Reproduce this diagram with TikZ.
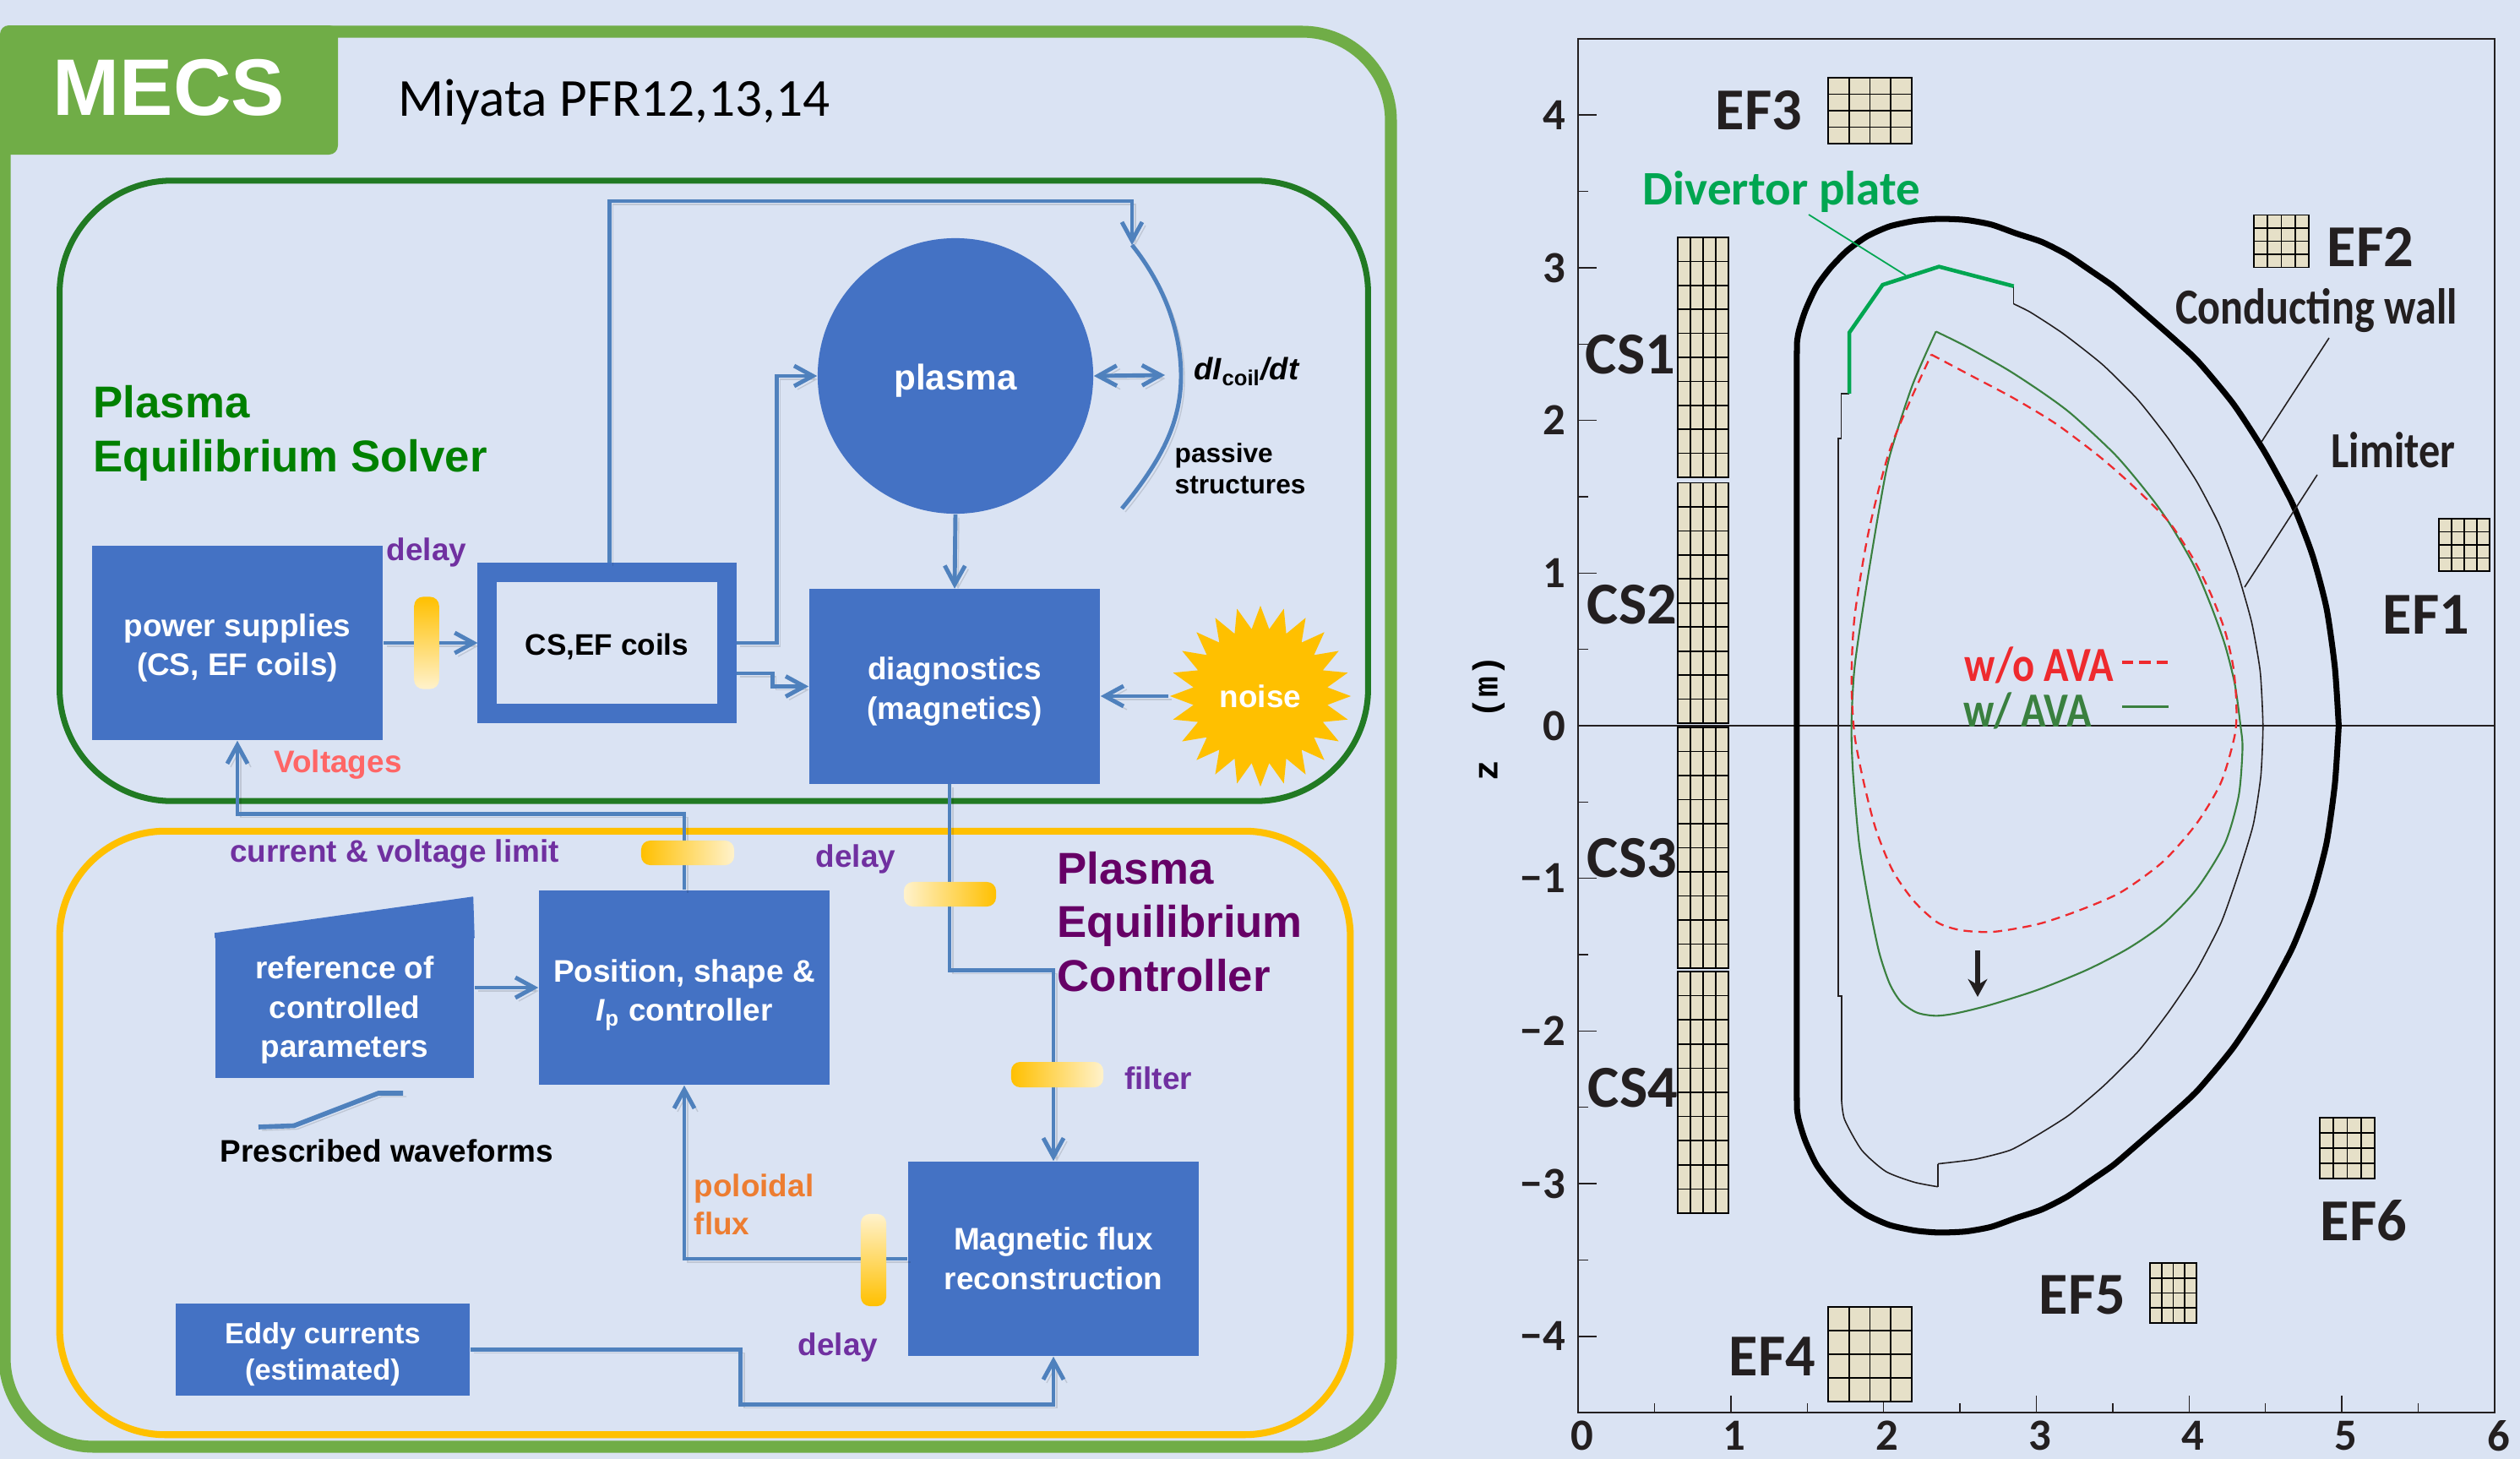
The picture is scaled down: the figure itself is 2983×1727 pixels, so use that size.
\documentclass[tikz,border=0pt]{standalone}
\usepackage{xcolor}
\usepackage{fontspec}
\setmainfont{Liberation Sans}
\newfontfamily\plotfont{Carlito}
\newfontfamily\plotnarrow[FakeStretch=0.84]{Carlito}
\newfontfamily\axisfont{Liberation Mono}
\definecolor{PageBg}{HTML}{DAE3F3}
\definecolor{OuterGreen}{HTML}{70AD47}
\definecolor{SolverGreen}{HTML}{217A23}
\definecolor{CtrlYellow}{HTML}{FFC000}
\definecolor{BoxBlue}{HTML}{4472C4}
\definecolor{FlowBlue}{HTML}{4F81BD}
\definecolor{BarPale}{HTML}{FFF2CC}
\definecolor{LabelPurple}{HTML}{7030A0}
\definecolor{CtrlPurple}{HTML}{660066}
\definecolor{FluxOrange}{HTML}{ED7D31}
\definecolor{VoltRed}{HTML}{FF6666}
\definecolor{TextGreen}{HTML}{008000}
\definecolor{PlateGreen}{HTML}{00A651}
\definecolor{AvaGreen}{HTML}{3A803F}
\definecolor{AvaRed}{HTML}{EE2A2E}
\definecolor{CoilFill}{HTML}{E6E0C8}
\definecolor{PlotInk}{HTML}{231F20}
\usepackage{tikz}
\usetikzlibrary{arrows.meta,shapes.geometric}
\newcommand{\topgap}[1]{\rule{0pt}{#1}}
\tikzset{
  frame/.style={
    draw,
    inner sep=0pt
  },
  bluebox/.style={
    fill=BoxBlue,
    text=white,
    align=center,
    inner sep=0pt,
    minimum width=3.44cm,
    minimum height=2.3cm,
    font=\fontsize{10.5}{13.3}\selectfont\bfseries
  },
  flowline/.style={
    draw=FlowBlue,
    line width=1.4pt,
    -{Straight Barb[length=2.2mm,width=2.4mm]},
    preaction={draw=black,opacity=.12,transform canvas={shift={(4,4)}}}
  },
  flowboth/.style={
    flowline,
    {Straight Barb[length=2.2mm,width=2.4mm]}-{Straight Barb[length=2.2mm,width=2.4mm]}
  },
  plainflow/.style={
    draw=FlowBlue,
    line width=1.4pt,
    preaction={draw=black,opacity=.12,transform canvas={shift={(4,4)}}}
  },
  delaybar/.style={
    rounded corners=3pt,
    inner sep=0pt
  },
  barlabel/.style={
    text=LabelPurple,
    inner sep=0pt,
    font=\fontsize{10.5}{13}\selectfont\bfseries
  },
  blacklabel/.style={
    text=black,
    inner sep=0pt,
    align=left,
    font=\fontsize{10.5}{13}\selectfont\bfseries
  },
  headline/.style={
    inner sep=0pt,
    align=left,
    font=\fontsize{15}{18}\selectfont\bfseries
  },
  coillabel/.style={
    text=PlotInk,
    inner sep=0pt,
    font=\plotfont\fontsize{20}{22}\selectfont\bfseries
  },
  walllabel/.style={
    text=PlotInk,
    inner sep=0pt,
    font=\plotnarrow\fontsize{17}{19}\selectfont\bfseries
  },
  ticklabel/.style={
    text=PlotInk,
    inner sep=0pt,
    font=\plotfont\fontsize{15}{18}\selectfont\bfseries
  },
  axisline/.style={
    draw=PlotInk,
    line width=0.4pt
  },
  leaderline/.style={
    draw=PlotInk,
    line width=0.45pt
  },
  limiterline/.style={
    draw=PlotInk,
    line width=0.45pt
  },
  coilbox/.style={
    fill=CoilFill,
    draw=black,
    line width=0.5pt
  },
  coilline/.style={
    draw=black,
    line width=0.5pt
  }
}
\newcommand{\coilgrid}[4]{
  \filldraw[coilbox] (#1,#2) rectangle ++(#3,#4);
  \foreach \i in {1,...,4}{\draw[coilline] ({#1+#3*\i/4},#2) -- ++(0,#4);}
  \foreach \j in {1,...,4}{\draw[coilline] (#1,{#2+#4*\j/4}) -- ++(#3,0);}
}
\newcommand{\csgrid}[2]{
  \filldraw[coilbox] (1986,#1) rectangle ++(60,#2);
  \foreach \i in {1,...,4}{\draw[coilline] ({1986+60*\i/4},#1) -- ++(0,#2);}
  \foreach \j in {1,...,10}{\draw[coilline] (1986,{#1+#2*\j/10}) -- ++(60,0);}
}
\begin{document}
\begin{tikzpicture}[x=0.01cm,y=-0.01cm]
  \useasboundingbox (0,0) rectangle (2983,1727);
  \fill[PageBg] (0,0) rectangle (2983,1727);

  \node[frame,draw=OuterGreen,line width=4pt,rounded corners=1.05cm,minimum width=16.4cm,minimum height=16.74cm] (mecsframe) at (826,875) {};
  \fill[OuterGreen,rounded corners=3pt] (0,30) rectangle (400,183);
  \node[text=white,inner sep=0pt,font=\fontsize{27}{30}\selectfont\bfseries] (mecs) at (200,104) {MECS};
  \node[inner sep=0pt,font=\plotfont\fontsize{18}{20}\selectfont] (miyata) at (727,121) {Miyata PFR12,13,14};
  \node[frame,draw=SolverGreen,line width=2pt,rounded corners=1.33cm,minimum width=15.48cm,minimum height=7.34cm] (solverframe) at (845,581) {};
  \node[frame,draw=CtrlYellow,line width=2.3pt,rounded corners=1.25cm,minimum width=15.27cm,minimum height=7.14cm] (ctrlframe) at (834.5,1341) {};

  \node[headline,text=TextGreen,anchor=west] (solver) at (110,513) {Plasma\\Equilibrium Solver};
  \node[headline,text=CtrlPurple,anchor=west] (controller) at (1251,1091) {Plasma\\Equilibrium\\Controller};

  \node[bluebox] (power) at (281,761) {\topgap{1.05em}power supplies\\(CS, EF coils)};
  \node[draw=BoxBlue,line width=.23cm,fill=PageBg,text=black,inner sep=0pt,minimum width=2.83cm,minimum height=1.66cm,font=\fontsize{10}{12}\selectfont\bfseries] (coils) at (718.5,761) {\topgap{1em}CS,EF coils};
  \node[circle,fill=BoxBlue,text=white,inner sep=0pt,minimum size=3.26cm,font=\fontsize{12}{14}\selectfont\bfseries] (plasma) at (1131,445) {\topgap{1em}plasma};
  \node[bluebox] (diagnostics) at (1130,812.5) {\topgap{1.05em}diagnostics\\(magnetics)};
  \node[star,star points=24,star point ratio=1.34,fill=CtrlYellow,text=white,inner sep=0pt,minimum size=2.14cm,font=\fontsize{10.5}{13}\selectfont\bfseries] (noise) at (1492,824) {noise};
  \node[bluebox,minimum width=3.06cm,minimum height=1.71cm] (reference) at (408,1190.5) {\topgap{1em}reference of\\controlled\\parameters};
  \fill[BoxBlue] ([yshift=-.06cm]reference.north west) -- (reference.north west) -- ++(306,-43) -- ([yshift=-.06cm]reference.north east) -- cycle;
  \node[bluebox] (position) at (810,1169) {\topgap{1.2em}Position, shape \&\\\textit{I}\textsubscript{p} controller};
  \node[bluebox] (flux) at (1247,1490) {Magnetic flux\\reconstruction};
  \node[bluebox,minimum width=3.48cm,minimum height=1.09cm,font=\fontsize{9.8}{12}\selectfont\bfseries] (eddy) at (382,1597.5) {\topgap{1.05em}Eddy currents\\(estimated)};

  \coordinate (feedover) at (1340,238);
  \coordinate (passivetop) at (1340,290);
  \coordinate (passivemid) at (1379,444);
  \draw[flowline] ([xshift=.03cm]coils.north) |- (feedover) -- (passivetop);
  \draw[plainflow] (passivetop) .. controls (1380,340) and (1398,395) .. (1398,445) .. controls (1398,500) and (1375,545) .. (1328,602);
  \draw[flowline] (coils.east) -- ++(48,0) |- (plasma.west);
  \draw[flowline] ([yshift=-.36cm]coils.east) -- ++(43,0) |- (diagnostics.west);
  \draw[flowline] (power.east) -- (coils.west);
  \draw[flowline] (plasma.south) -- (diagnostics.north);
  \draw[flowboth] (plasma.east) -- (passivemid);
  \draw[flowline] (noise.west) -- (diagnostics.east |- noise.west);
  \draw[flowline] (position.north) -- ++(0,-90) -| (power.south);
  \draw[flowline] ([xshift=-.06cm]diagnostics.south) -- ++(0,220) -| (flux.north);
  \draw[flowline] (flux.west) -| (position.south);
  \draw[flowline] (eddy.east) -- ++(320,0) -- ++(0,65) -| (flux.south);
  \draw[flowline] (reference.east |- position.west) -- (position.west);
  \draw[plainflow,line width=1.6pt] (306,1334) -- (348,1332.5) -- (448,1294) -- (477,1294);

  \node[delaybar,top color=CtrlYellow,bottom color=BarPale,minimum width=.295cm,minimum height=1.09cm] (powerdelay) at (505,761) {};
  \node[delaybar,left color=CtrlYellow,right color=BarPale,minimum width=1.1cm,minimum height=.29cm] (limitdelay) at (814,1009.5) {};
  \node[delaybar,left color=BarPale,right color=CtrlYellow,minimum width=1.09cm,minimum height=.29cm] (diagdelay) at (1124.5,1058.5) {};
  \node[delaybar,left color=CtrlYellow,right color=BarPale,minimum width=1.09cm,minimum height=.3cm] (filterbar) at (1251.5,1272) {};
  \node[delaybar,top color=BarPale,bottom color=CtrlYellow,minimum width=.3cm,minimum height=1.09cm] (fluxdelay) at (1034,1491.5) {};

  \node[barlabel] (delaya) at (505,654) {delay};
  \node[barlabel,text=VoltRed] (voltages) at (400,905) {Voltages};
  \node[barlabel] (limit) at (467,1011) {current \& voltage limit};
  \node[barlabel] (delayb) at (1013,1017) {delay};
  \node[barlabel] (filter) at (1371,1276) {filter};
  \node[barlabel] (delayc) at (992,1595) {delay};
  \node[barlabel,text=FluxOrange,anchor=west,align=left,font=\fontsize{10.5}{12.7}\selectfont\bfseries] (poloidal) at (821,1426) {poloidal\\flux};
  \node[blacklabel,font=\fontsize{10.4}{14}\selectfont\bfseries] (didt) at (1476,440) {\textit{dI}\textsubscript{coil}\textit{/dt}};
  \node[blacklabel,anchor=west,font=\fontsize{9}{10.5}\selectfont\bfseries] (passive) at (1390,555) {passive\\structures};
  \node[blacklabel] (prescribed) at (458,1362) {Prescribed waveforms};

  \begin{scope}[shift={(1868,859)},x=1.807cm,y=1.806cm]
    \draw[axisline] (0,-4.5) rectangle (6,4.5);
    \draw[axisline] (0,0) -- (6,0);
    \foreach \z/\zname in {-4/−4,-3/−3,-2/−2,-1/−1,0/0,1/1,2/2,3/3,4/4}{
      \draw[axisline] (0,\z) -- ++(.12,0);
      \node[ticklabel,anchor=east] (ztick\z) at (-.08,\z) {\zname};
    }
    \foreach \z in {-3.5,-2.5,-1.5,-0.5,0.5,1.5,2.5,3.5}{\draw[axisline] (0,\z) -- ++(.065,0);}
    \foreach \r in {0,...,6}{\node[ticklabel] (rtick\r) at (\r+.025,-4.65) {\r};}
    \foreach \r in {1,...,5}{\draw[axisline] (\r,-4.5) -- ++(0,.11);}
    \foreach \r in {0.5,1.5,2.5,3.5,4.5,5.5}{\draw[axisline] (\r,-4.5) -- ++(0,.06);}

    \foreach \sgn in {1,-1}{
      \draw[black,line width=2pt,yscale=\sgn] plot[smooth,tension=.4] coordinates {(1.432,0) (1.432,1.2) (1.432,2.394) (1.44,2.56) (1.487,2.717) (1.56,2.874) (1.653,3.0) (1.764,3.114) (1.893,3.206) (2.04,3.271) (2.206,3.307) (2.363,3.32) (2.538,3.313) (2.704,3.283) (2.87,3.224) (3.036,3.169) (3.2,3.086) (3.35,2.985) (3.498,2.883) (3.608,2.79) (3.894,2.54) (4.06,2.385) (4.29,2.108) (4.494,1.794) (4.678,1.452) (4.807,1.12) (4.9,.77) (4.955,.38) (4.98,0)};
    }
    \draw[limiterline] plot[smooth,tension=.35] coordinates {(2.852,2.763) (2.962,2.708) (3.175,2.569) (3.433,2.366) (3.664,2.136) (3.867,1.877) (4.05,1.6) (4.199,1.314) (4.318,1.0) (4.41,.677) (4.466,.354) (4.484,0) (4.47,-.33) (4.42,-.65) (4.32,-.98) (4.21,-1.29) (4.05,-1.6) (3.87,-1.87) (3.67,-2.13) (3.44,-2.36) (3.215,-2.55) (3.01,-2.68) (2.83,-2.78) (2.6,-2.84) (2.355,-2.87)};
    \draw[limiterline] (2.852,2.879) -- (2.852,2.763);
    \draw[limiterline] (1.776,2.176) -- (1.723,2.176) -- (1.723,1.881) -- (1.704,1.881) -- (1.704,-1.77) -- (1.725,-1.77) -- (1.725,-2.45);
    \draw[limiterline] plot[smooth,tension=.4] coordinates {(1.725,-2.45) (1.745,-2.58) (1.857,-2.78) (2.015,-2.92) (2.2,-2.99) (2.355,-3.02)};
    \draw[limiterline] (2.355,-3.02) -- (2.355,-2.87);
    \draw[PlateGreen,line width=1.3pt] (1.776,2.176) -- (1.776,2.575) -- (1.994,2.888) -- (2.363,3.007) -- (2.852,2.879);

    \draw[AvaGreen,line width=0.6pt] plot[smooth,tension=.45] coordinates {(2.343,2.582) (2.538,2.486) (2.815,2.33) (3.055,2.172) (3.239,2.034) (3.525,1.766) (3.756,1.489) (3.885,1.305) (4.033,1.047) (4.143,.788) (4.235,.53) (4.30,.271) (4.337,0) (4.35,-.15) (4.325,-.46) (4.235,-.77) (4.05,-1.07) (3.83,-1.3) (3.6,-1.46) (3.33,-1.6) (3.01,-1.73) (2.695,-1.83) (2.47,-1.885) (2.34,-1.9) (2.22,-1.88) (2.115,-1.81) (2.04,-1.69) (1.97,-1.48) (1.9,-1.14) (1.84,-.77) (1.8,-.31) (1.79,0) (1.81,.38) (1.88,.865) (1.97,1.41) (2.04,1.766) (2.188,2.228) (2.343,2.582)};
    \draw[AvaRed,line width=0.65pt,dash pattern=on 3pt off 2pt] plot[smooth,tension=.45] coordinates {(2.313,2.431) (2.575,2.292) (2.852,2.145) (3.128,1.978) (3.405,1.77) (3.59,1.61) (3.756,1.452) (3.885,1.314) (4.033,1.084) (4.143,.862) (4.235,.622) (4.29,.382) (4.31,.142) (4.3,-.06) (4.21,-.37) (4.05,-.64) (3.83,-.89) (3.555,-1.09) (3.28,-1.21) (3.01,-1.3) (2.72,-1.35) (2.51,-1.34) (2.355,-1.29) (2.2,-1.15) (2.06,-.95) (1.95,-.68) (1.87,-.37) (1.81,-.06) (1.79,.29) (1.81,.71) (1.9,1.26) (2.031,1.776) (2.169,2.117) (2.313,2.431)};
  \end{scope}

  \csgrid{281}{284}
  \csgrid{571.5}{284.5}
  \csgrid{861}{285}
  \csgrid{1150}{286}
  \coilgrid{2164}{92}{99}{78}
  \coilgrid{2668}{254.5}{65}{62}
  \coilgrid{2887}{614}{60}{62}
  \coilgrid{2746}{1323}{65}{72}
  \coilgrid{2545}{1495}{55}{71}
  \coilgrid{2164}{1547}{99}{112}

  \node[coillabel] (ef3) at (2082,131) {EF3};
  \node[coillabel] (ef2) at (2806,292) {EF2};
  \node[coillabel] (ef1) at (2872,728) {EF1};
  \node[coillabel] (ef6) at (2798,1445) {EF6};
  \node[coillabel] (ef5) at (2465,1533) {EF5};
  \node[coillabel] (ef4) at (2098,1606) {EF4};
  \node[coillabel] (cs1) at (1930,420) {CS1};
  \node[coillabel] (cs2) at (1932,716) {CS2};
  \node[coillabel] (cs3) at (1932,1016) {CS3};
  \node[coillabel] (cs4) at (1933,1288) {CS4};
  \node[walllabel,text=PlateGreen,font=\plotfont\fontsize{16.2}{18}\selectfont\bfseries] (divertor) at (2109,227) {Divertor plate};
  \node[walllabel] (wall) at (2742,368) {Conducting wall};
  \node[walllabel] (limiter) at (2833,533) {Limiter};
  \node[walllabel,text=AvaRed,font=\plotnarrow\fontsize{16.5}{18}\selectfont\bfseries] (woava) at (2414,787) {w/o AVA};
  \node[walllabel,text=AvaGreen,font=\plotnarrow\fontsize{16.5}{18}\selectfont\bfseries] (wava) at (2400,841) {w/ AVA};
  \node[inner sep=0pt,rotate=90,font=\axisfont\fontsize{11.7}{12}\selectfont\bfseries] (zaxis) at (1762,850) {z\ \ (m)};

  \coordinate (divertorfoot) at (2141,254);
  \coordinate (divertortip) at (2256,326);
  \coordinate (wallfoot) at (2757,400);
  \coordinate (walltip) at (2677,523);
  \coordinate (limiterfoot) at (2743,562);
  \coordinate (limitertip) at (2657,695);
  \draw[PlateGreen,line width=0.5pt] (divertorfoot) -- (divertortip);
  \draw[leaderline] (wallfoot) -- (walltip);
  \draw[leaderline] (limiterfoot) -- (limitertip);
  \draw[AvaRed,line width=0.9pt,dash pattern=on 3.8pt off 2pt] (2512,784) -- (2567,784);
  \draw[AvaGreen,line width=0.9pt] (2512,836.7) -- (2567,836.7);
  \draw[PlotInk,line width=1.8pt,-{Stealth[length=6pt,width=6.5pt]}] (2341,1125) -- (2341,1180);
\end{tikzpicture}
\end{document}
